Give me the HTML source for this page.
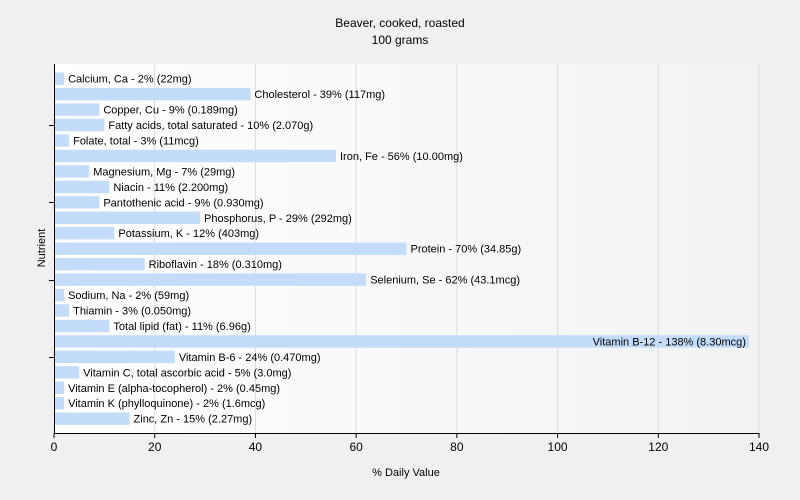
<!DOCTYPE html>
<html><head><meta charset="utf-8"><style>
html,body{margin:0;padding:0;background:#f0f0f0;}
svg{display:block;font-family:"Liberation Sans",Tahoma,sans-serif;}
</style></head><body>
<svg width="800" height="500" viewBox="0 0 800 500">
<defs><linearGradient id="bg" x1="0" x2="1" y1="0" y2="0"><stop offset="0" stop-color="#ffffff"/><stop offset="1" stop-color="#f2f2f2"/></linearGradient></defs>
<text x="400" y="27" text-anchor="middle" font-size="12" fill="#000">Beaver, cooked, roasted</text>
<text x="400" y="44" text-anchor="middle" font-size="12" fill="#000">100 grams</text>
<rect x="54" y="64" width="705" height="369" fill="url(#bg)"/>
<g id="grid"></g><g id="bars"></g><g id="axes"></g>
<text x="406" y="476" text-anchor="middle" font-size="11">% Daily Value</text>
<text transform="translate(45,248) rotate(-90)" text-anchor="middle" font-size="11">Nutrient</text>
</svg>
<script>
const categories=["Calcium, Ca","Cholesterol","Copper, Cu","Fatty acids, total saturated","Folate, total","Iron, Fe","Magnesium, Mg","Niacin","Pantothenic acid","Phosphorus, P","Potassium, K","Protein","Riboflavin","Selenium, Se","Sodium, Na","Thiamin","Total lipid (fat)","Vitamin B-12","Vitamin B-6","Vitamin C, total ascorbic acid","Vitamin E (alpha-tocopherol)","Vitamin K (phylloquinone)","Zinc, Zn"];
const values=[2,39,9,10,3,56,7,11,9,29,12,70,18,62,2,3,11,138,24,5,2,2,15];
const amounts=["22mg","117mg","0.189mg","2.070g","11mcg","10.00mg","29mg","2.200mg","0.930mg","292mg","403mg","34.85g","0.310mg","43.1mcg","59mg","0.050mg","6.96g","8.30mcg","0.470mg","3.0mg","0.45mg","1.6mcg","2.27mg"];
const xTicks=[0,20,40,60,80,100,120,140];
const NS="http://www.w3.org/2000/svg";
const X0=54,X1=759,Y0=64,Y1=433,XMAX=140;
const FIRST=78.7,LAST=418.7;
const pitch=(LAST-FIRST)/(categories.length-1);
const x=v=>X0+v/XMAX*(X1-X0);
const yc=i=>FIRST+pitch*i;
function mk(t,a,p){const e=document.createElementNS(NS,t);for(const k in a)e.setAttribute(k,a[k]);p.appendChild(e);return e;}
const grid=document.getElementById('grid'),bars=document.getElementById('bars'),axes=document.getElementById('axes');
xTicks.forEach(t=>{if(t>0){const l=mk('line',{x1:x(t),x2:x(t),y1:Y0,y2:Y1,stroke:'#dcdcdc'},grid);

}
mk('line',{x1:x(t),x2:x(t),y1:Y1,y2:Y1+5,stroke:'#000'},axes);
const tx=mk('text',{x:x(t),y:Y1+18,'text-anchor':'middle','font-size':12},axes);tx.textContent=t;

});
categories.forEach((c,i)=>{const cy=yc(i);
const r=mk('rect',{x:X0,y:cy-6.2,width:x(values[i])-X0,height:12.4,fill:'#c2dcfa'},bars);


const lab=c+' - '+values[i]+'% ('+amounts[i]+')';
const inside=x(values[i])>X1-150;
const t=mk('text',{x:inside?x(values[i])-3:x(values[i])+4,y:cy+4,'text-anchor':inside?'end':'start','font-size':11},bars);
t.textContent=lab;

});
[3,8,13,18].forEach(k=>{const yy=Math.round(yc(k))+0.5;mk('line',{x1:X0-5,x2:X0,y1:yy,y2:yy,stroke:'#000'},axes);});
const ya=mk('line',{x1:X0+0.5,x2:X0+0.5,y1:Y0,y2:Y1,stroke:'#000'},axes);


const xa=mk('line',{x1:X0,x2:X1,y1:Y1+0.5,y2:Y1+0.5,stroke:'#000'},axes);


</script>
</body></html>
